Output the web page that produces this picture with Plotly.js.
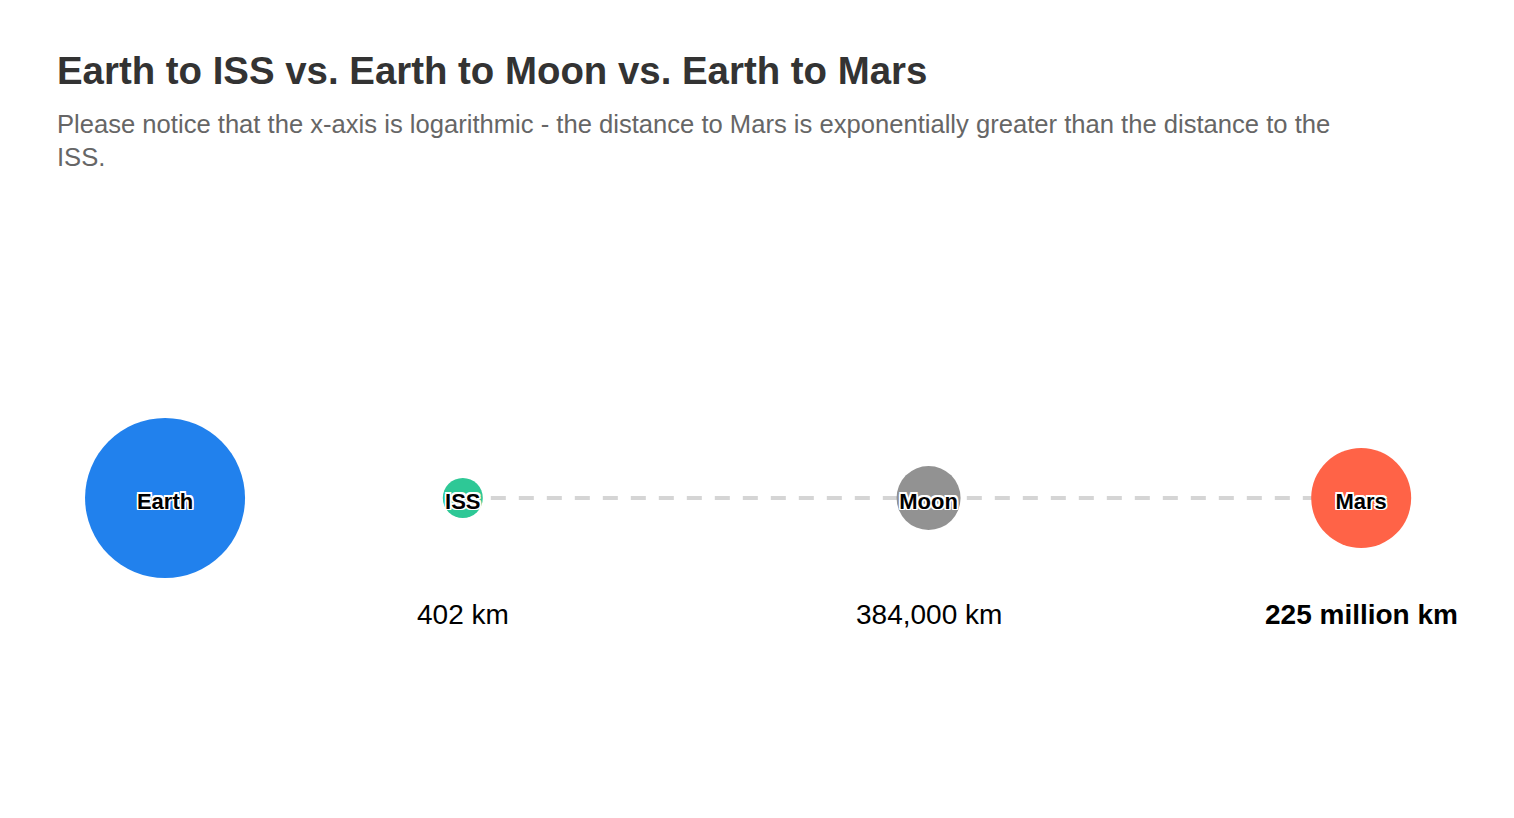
<!DOCTYPE html>
<html>
<head>
<meta charset="utf-8">
<script src="https://cdn.plot.ly/plotly-3.0.1.min.js"></script>
<style>html,body{margin:0;padding:0;background:#fff;}#chart{width:1514px;height:818px;}</style>
</head>
<body>
<div id="chart"></div>
<script>
// ---- data ----
const bodies = ["Earth", "ISS", "Moon", "Mars"];
const distances = [5, 402, 384000, 225000000];          // km (Earth placed at reference point on log axis)
const distanceLabels = ["", "402 km", "384,000 km", "225 million km"];
const pathBodies = ["ISS", "Mars"];
const pathDistances = [402, 225000000];

// ---- styles ----
const colors = ["#2181ED", "#2EC896", "#929292", "#FF6347"];
const markerSizes = [160, 40, 64, 100];
const FONT = "Helvetica, 'Liberation Sans', Arial, sans-serif";
const outline = "-1.5px -1.5px 0 #fff, 1.5px -1.5px 0 #fff, -1.5px 1.5px 0 #fff, 1.5px 1.5px 0 #fff, 0 -1.5px 0 #fff, 0 1.5px 0 #fff, -1.5px 0 0 #fff, 1.5px 0 0 #fff";
const PLOT_HALF_PX = 320;          // half plot height in px (y range [-1,1])
const labelOffset = -5 / PLOT_HALF_PX;

const traces = [
  {
    type: "scatter", mode: "lines",
    x: pathDistances, y: pathDistances.map(() => 0),
    line: {color: "#d5d5d5", width: 4, dash: "15px,13px"},
    hoverinfo: "skip", showlegend: false
  },
  {
    type: "scatter", mode: "markers",
    x: distances, y: distances.map(() => 0),
    marker: {size: markerSizes, color: colors, line: {width: 0}, opacity: 1},
    text: bodies, hoverinfo: "text", showlegend: false
  },
  {
    type: "scatter", mode: "text",
    x: distances, y: distances.map(() => labelOffset),
    text: bodies,
    textposition: "middle center",
    textfont: {family: FONT, size: 22, color: "#000", weight: 700, shadow: outline},
    hoverinfo: "skip", showlegend: false
  }
];

const annotations = distances.map((d, i) => ({
  x: Math.log10(d), y: 0, xref: "x", yref: "y",
  text: distanceLabels[i],
  showarrow: false, yshift: -116,
  font: {family: FONT, size: 28, color: "#000", weight: i === distances.length - 1 ? 700 : 400}
})).filter(a => a.text !== "");

const layout = {
  width: 1514, height: 818,
  margin: {l: 0, r: 0, t: 178, b: 0},
  paper_bgcolor: "#fff", plot_bgcolor: "#fff",
  title: {
    text: "<b>Earth to ISS vs. Earth to Moon vs. Earth to Mars</b>",
    font: {family: FONT, size: 38.4, color: "#333"},
    x: 57 / 1514, xanchor: "left", xref: "container",
    y: 1 - 57 / 818, yanchor: "top", yref: "container",
    subtitle: {
      text: "Please notice that the x-axis is logarithmic - the distance to Mars is exponentially greater than the distance to the<br>ISS.",
      font: {family: FONT, size: 25.6, color: "#666"}
    }
  },
  xaxis: {type: "log", range: [-0.357, 9.33], visible: false, showgrid: false, zeroline: false, fixedrange: true},
  yaxis: {range: [-1, 1], visible: false, showgrid: false, zeroline: false, fixedrange: true},
  annotations: annotations,
  showlegend: false
};

Plotly.newPlot("chart", traces, layout, {displayModeBar: false, staticPlot: true});
</script>
</body>
</html>
